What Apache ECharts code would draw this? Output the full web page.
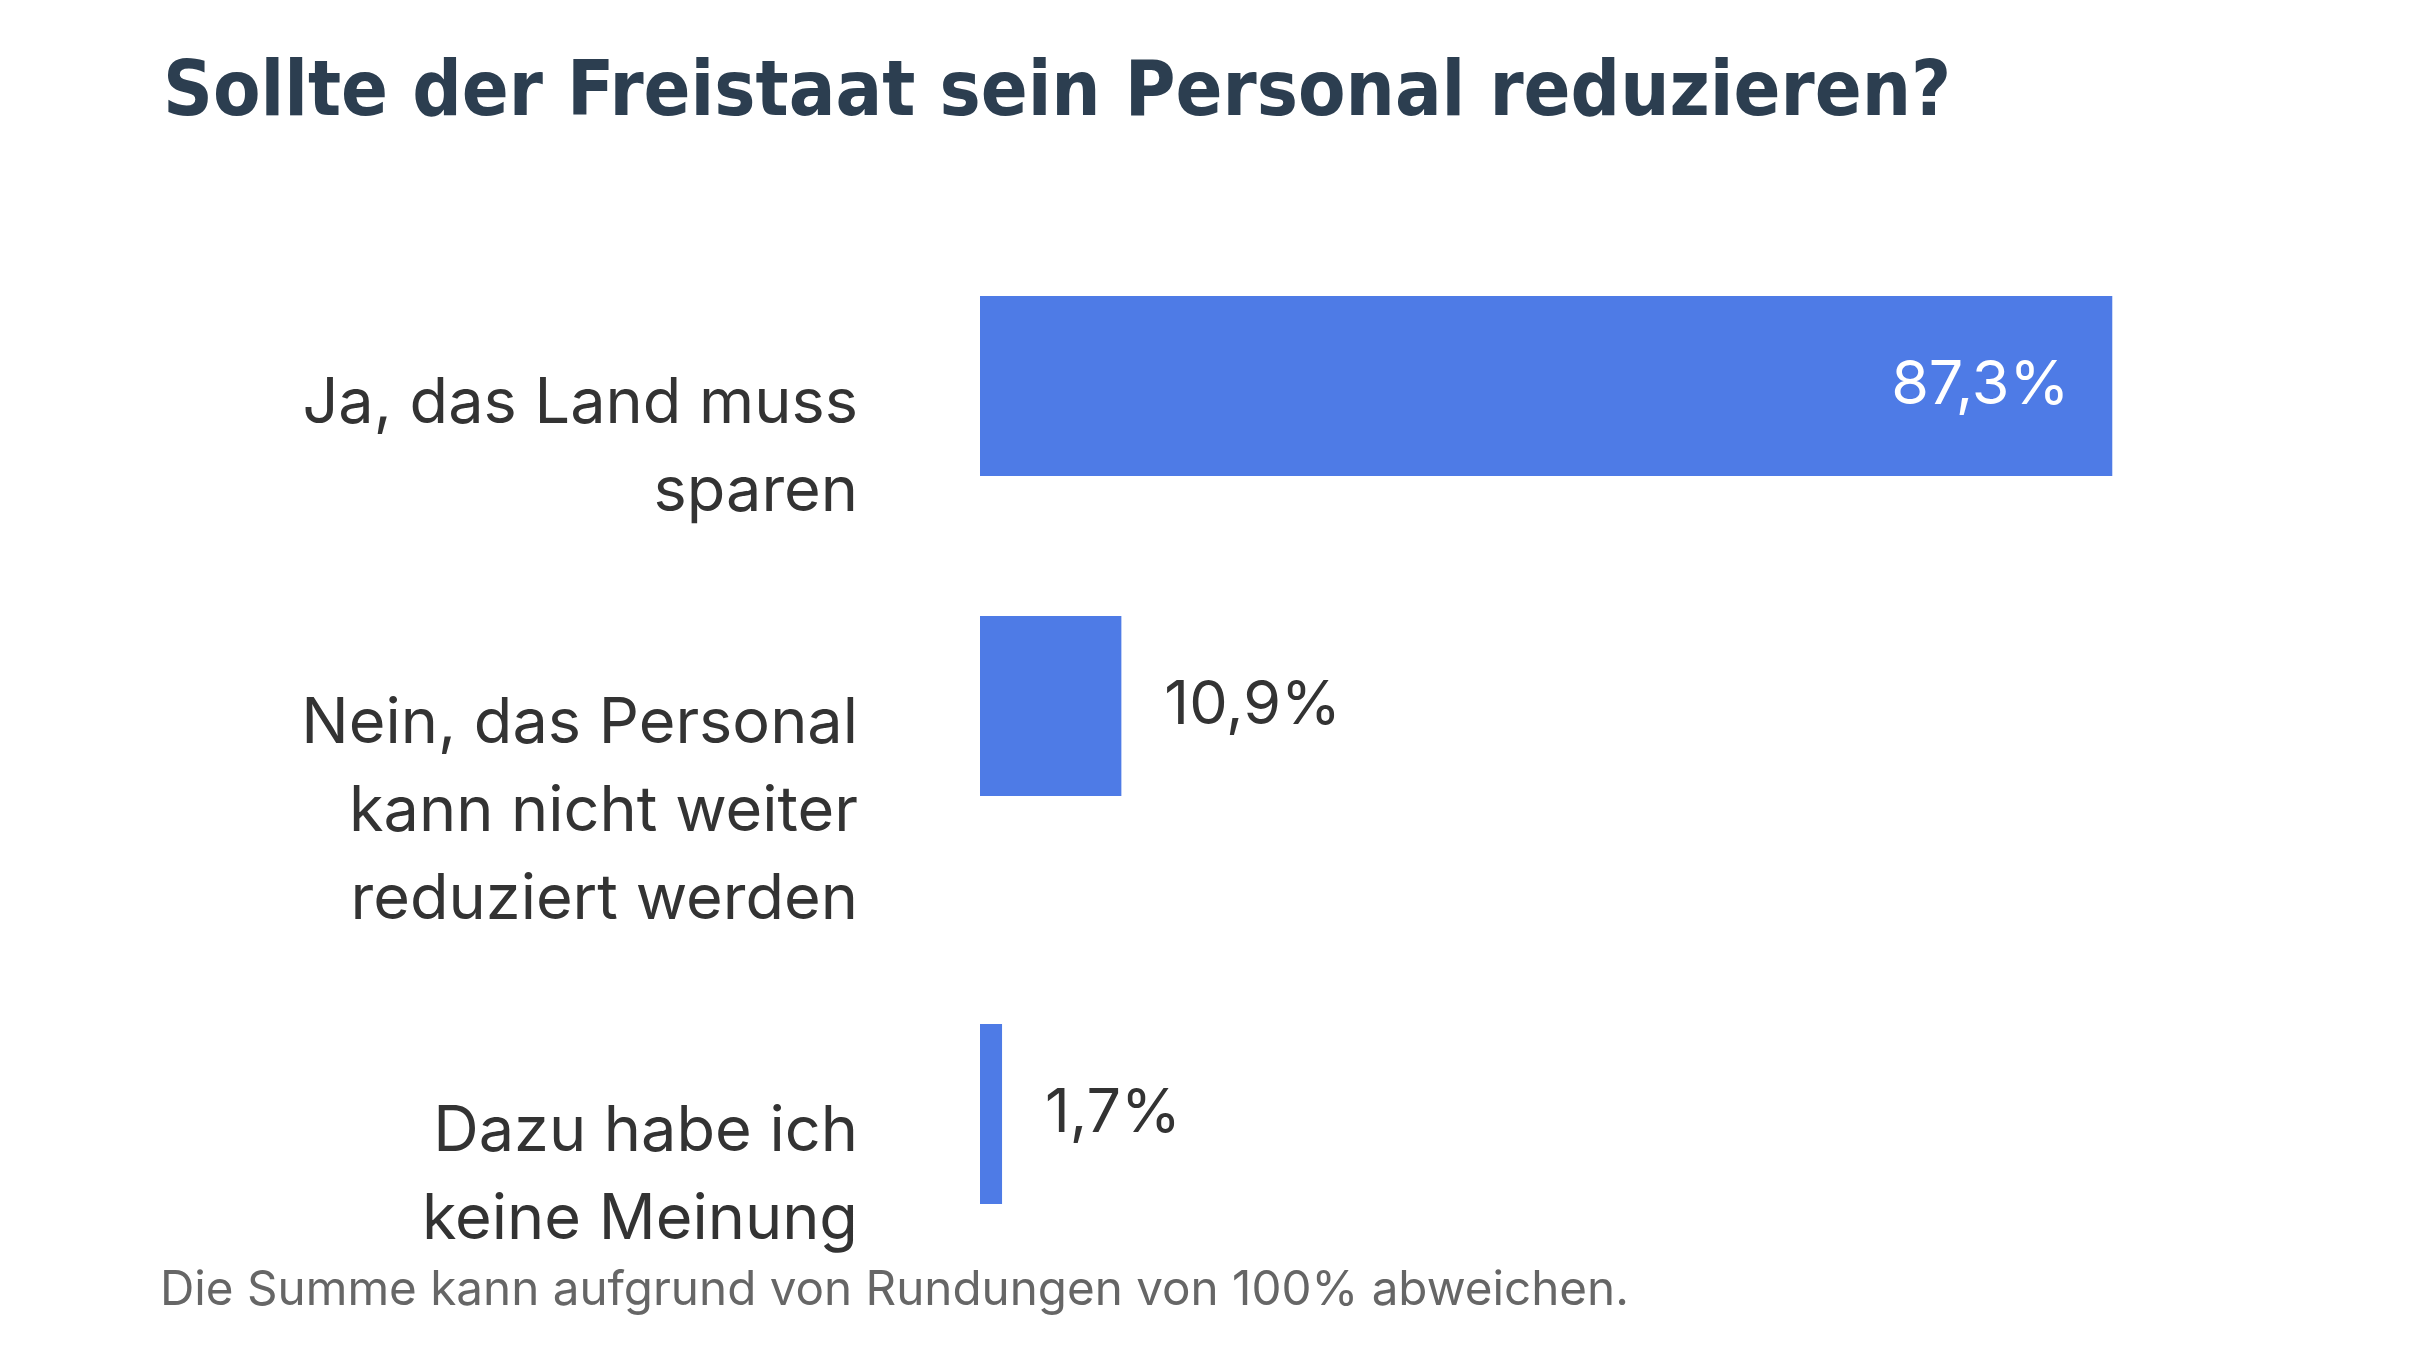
<!DOCTYPE html>
<html>
<head>
<meta charset="utf-8">
<script src="https://cdn.jsdelivr.net/npm/echarts@6/dist/echarts.min.js"></script>
<style>
  html, body { margin: 0; padding: 0; background: #ffffff; }
  #chart { width: 2432px; height: 1368px; }
</style>
</head>
<body>
<div id="chart"></div>
<script>
  const titleText = 'Sollte der Freistaat sein Personal reduzieren?'
  const noteText = 'Die Summe kann aufgrund von Rundungen von 100% abweichen.'
  const categories = [
    'Ja, das Land muss\nsparen',
    'Nein, das Personal\nkann nicht weiter\nreduziert werden',
    'Dazu habe ich\nkeine Meinung'
  ]
  const values = [87.3, 10.9, 1.7]

  const barColor = '#4e7be6'
  const rowTops = [296, 616, 1024] // top of each row
  const barHeight = 180

  let el = document.getElementById('chart')
  let myChart = echarts.init(el)

  function fmt(v) {
    return v.toFixed(1).replace('.', ',') + '%'
  }

  let grid = [], xAxis = [], yAxis = [], series = []
  categories.forEach((cat, i) => {
    grid.push({ left: 980, width: 1297, top: rowTops[i], height: barHeight })
    xAxis.push({
      gridIndex: i, type: 'value', min: 0, max: 100, show: false
    })
    yAxis.push({
      gridIndex: i,
      type: 'category',
      data: [cat],
      axisLine: { show: false },
      axisTick: { show: false },
      splitLine: { show: false },
      axisLabel: {
        margin: 122,
        align: 'right',
        verticalAlign: 'top',
        padding: [-26, 0, 0, 0],
        fontFamily: 'Inter',
        fontSize: 63,
        lineHeight: 88,
        color: '#333333'
      }
    })
    // the big bar keeps its label inside
    let inside = values[i] > 50
    series.push({
      type: 'bar',
      xAxisIndex: i,
      yAxisIndex: i,
      barWidth: '100%',
      itemStyle: { color: barColor },
      label: {
        show: true,
        position: inside ? 'insideRight' : 'right',
        distance: 43,
        formatter: p => fmt(p.value),
        fontFamily: 'Inter',
        fontSize: 61,
        color: inside ? '#ffffff' : '#333333'
      },
      data: [values[i]]
    })
  })

  let options = {
    backgroundColor: '#ffffff',
    animation: false,
    title: [
      {
        text: titleText,
        left: 158,
        top: 51,
        textStyle: {
          fontFamily: 'Liberation Sans Narrow, DejaVu Sans Condensed, sans-serif',
          fontWeight: 'bold',
          fontSize: 77,
          color: '#2c3e50'
        }
      },
      {
        text: noteText,
        left: 155,
        top: 1262,
        textStyle: {
          fontFamily: 'Inter',
          fontWeight: 'normal',
          fontSize: 47.6,
          color: '#666666'
        }
      }
    ],
    grid,
    xAxis,
    yAxis,
    series
  }
  myChart.setOption(options)
</script>
</body>
</html>
